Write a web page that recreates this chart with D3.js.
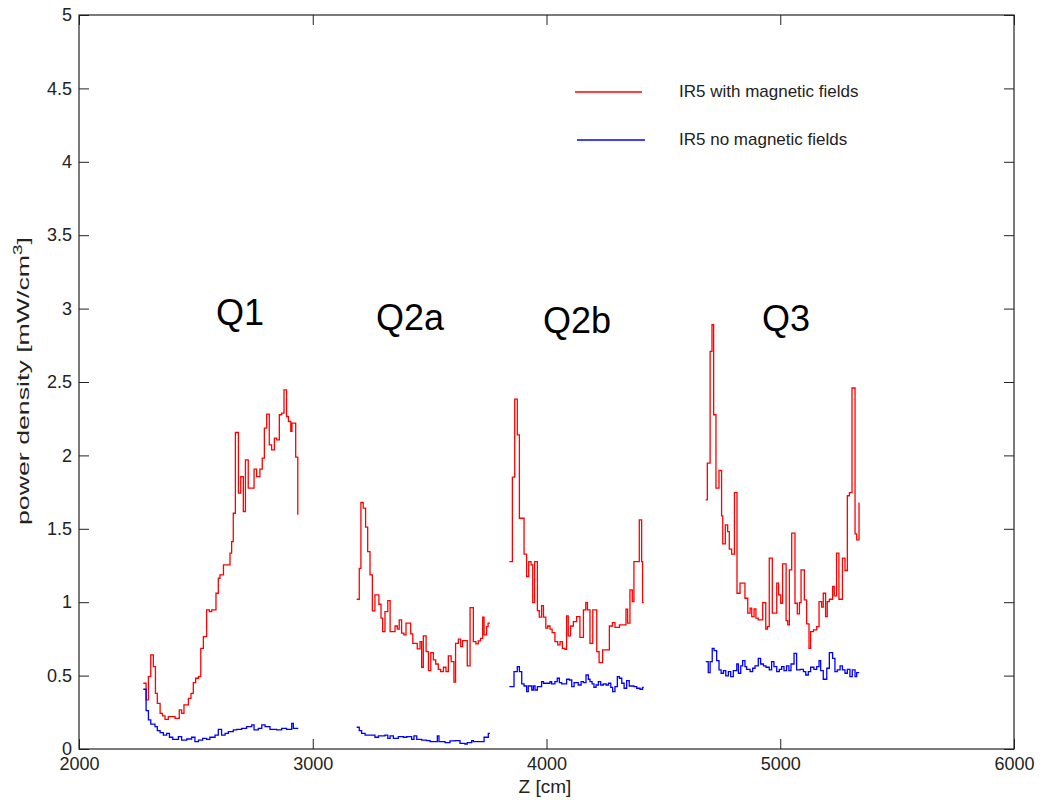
<!DOCTYPE html>
<html><head><meta charset="utf-8">
<script src="https://cdn.jsdelivr.net/npm/d3@7/dist/d3.min.js"></script>
<style>body{margin:0;background:#fff}svg{display:block}text{font-family:"Liberation Sans",Arial,sans-serif}</style>
</head><body>
<svg id="c" width="1049" height="800"></svg>
<script>
// ---------- data ----------
const xTicks = [2000, 3000, 4000, 5000, 6000];
const yTicks = [0, 0.5, 1, 1.5, 2, 2.5, 3, 3.5, 4, 4.5, 5];
const yTickLabels = ["0","0.5","1","1.5","2","2.5","3","3.5","4","4.5","5"];
const seriesNames = ["IR5 with magnetic fields", "IR5 no magnetic fields"];
const magnetNames = ["Q1", "Q2a", "Q2b", "Q3"];

// Q1
const q1RedZ = [2275,2287,2297,2307,2318,2327,2335,2347,2357,2368,2382,2411,2429,2439,2449,2468,2479,2489,2499,2511,2521,2532,2546,2558,2568,2586,2596,2603,2618,2632,2646,2653,2660,2669,2682,2692,2703,2712,2724,2749,2760,2774,2784,2793,2803,2814,2824,2836,2846,2857,2867,2877,2888,2896,2906,2911,2927,2936];
const q1RedV = [0.448,0.334,0.493,0.641,0.561,0.379,0.311,0.243,0.225,0.202,0.220,0.209,0.266,0.243,0.300,0.345,0.379,0.452,0.482,0.493,0.686,0.766,0.948,0.936,0.948,1.061,1.163,1.186,1.254,1.254,1.334,1.413,1.606,2.156,1.743,1.856,1.618,1.970,1.777,1.906,1.856,1.906,1.981,2.186,2.281,2.072,2.038,2.118,2.106,2.277,2.288,2.447,2.265,2.231,2.163,2.220,1.988,1.595];
const q1BlueZ = [2275,2287,2297,2307,2325,2335,2347,2361,2375,2387,2401,2425,2439,2461,2482,2496,2511,2529,2546,2560,2582,2596,2610,2625,2639,2660,2675,2696,2717,2739,2749,2767,2782,2796,2817,2846,2867,2888,2910,2917,2938];
const q1BlueV = [0.407,0.261,0.198,0.170,0.152,0.125,0.111,0.095,0.107,0.080,0.066,0.084,0.061,0.068,0.080,0.050,0.061,0.073,0.066,0.080,0.095,0.134,0.095,0.107,0.118,0.130,0.134,0.141,0.152,0.164,0.130,0.141,0.164,0.152,0.134,0.130,0.141,0.134,0.175,0.141,0.141];

// Q2a
const q2aRedZ = [3188,3199,3206,3216,3226,3235,3245,3255,3266,3283,3292,3299,3309,3321,3331,3352,3362,3370,3380,3390,3399,3419,3428,3447,3459,3466,3473,3485,3495,3505,3516,3526,3537,3547,3559,3570,3580,3592,3604,3611,3623,3633,3641,3661,3673,3687,3698,3708,3718,3727,3733,3744,3750,3758];
const q2aRedV = [1.020,1.231,1.679,1.641,1.511,1.345,1.186,0.941,1.050,0.986,0.891,0.800,0.936,1.011,0.800,0.838,0.816,0.879,0.789,0.777,0.857,0.784,0.720,0.682,0.732,0.557,0.770,0.663,0.534,0.657,0.607,0.579,0.543,0.527,0.557,0.527,0.634,0.595,0.455,0.720,0.748,0.697,0.738,0.566,0.963,0.732,0.716,0.736,0.754,0.898,0.777,0.834,0.857,0.857];
const q2aBlueZ = [3188,3199,3209,3224,3266,3281,3309,3321,3331,3345,3366,3388,3402,3423,3433,3445,3466,3487,3502,3533,3540,3566,3587,3609,3630,3651,3661,3680,3687,3733,3751,3758];
const q2aBlueV = [0.148,0.125,0.107,0.095,0.080,0.089,0.095,0.073,0.089,0.073,0.084,0.080,0.084,0.066,0.089,0.066,0.061,0.057,0.050,0.089,0.050,0.043,0.055,0.057,0.039,0.034,0.043,0.057,0.050,0.080,0.107,0.107];

// Q2b
const q2bRedZ = [3841,3854,3864,3875,3884,3904,3915,3924,3934,3941,3949,3961,3969,3979,3987,3997,4005,4015,4024,4036,4048,4058,4068,4079,4086,4093,4103,4115,4129,4143,4158,4168,4175,4186,4198,4215,4225,4240,4269,4282,4293,4312,4340,4347,4357,4367,4374,4397,4407,4411,4416];
const q2bRedV = [1.277,1.852,2.384,2.140,1.572,1.327,1.175,1.277,1.254,0.997,1.277,0.943,0.898,0.977,0.898,0.823,0.838,0.816,0.793,0.731,0.709,0.731,0.686,0.679,0.907,0.770,0.838,0.868,0.902,0.761,0.948,0.997,0.948,0.720,0.948,0.663,0.588,0.675,0.838,0.861,0.829,0.845,0.952,0.857,1.084,1.004,1.277,1.561,1.277,0.997,0.997];
const q2bBlueZ = [3841,3861,3875,3884,3894,3904,3915,3922,3937,3944,3951,3961,3979,3987,4015,4022,4036,4046,4055,4065,4086,4098,4108,4118,4136,4148,4158,4169,4179,4186,4195,4203,4212,4222,4232,4243,4255,4265,4275,4283,4293,4303,4312,4322,4332,4343,4354,4374,4386,4400,4411,4416];
const q2bBlueV = [0.425,0.527,0.561,0.527,0.443,0.429,0.391,0.429,0.402,0.429,0.402,0.425,0.459,0.448,0.459,0.443,0.459,0.482,0.452,0.443,0.475,0.470,0.425,0.452,0.436,0.459,0.452,0.504,0.475,0.459,0.443,0.420,0.436,0.459,0.436,0.443,0.436,0.448,0.420,0.391,0.425,0.493,0.482,0.448,0.414,0.466,0.429,0.425,0.414,0.407,0.420,0.420];

// Q3
const q3RedZ = [4681,4688,4700,4708,4715,4725,4738,4749,4754,4765,4775,4782,4792,4804,4815,4828,4849,4861,4871,4878,4888,4896,4906,4925,4938,4945,4953,4966,4985,4993,5002,5010,5025,5032,5039,5049,5063,5073,5082,5089,5103,5113,5123,5130,5142,5156,5166,5177,5184,5194,5201,5210,5224,5231,5241,5251,5266,5277,5287,5296,5307,5320,5327,5337];
const q3RedV = [1.697,1.947,2.708,2.890,2.277,1.777,1.897,1.588,1.397,1.527,1.481,1.361,1.327,1.747,1.061,1.130,1.027,0.925,0.959,0.902,0.954,0.891,0.879,0.997,0.816,0.834,1.300,0.925,1.130,1.050,0.993,1.261,0.875,0.845,1.220,1.470,0.993,0.920,0.997,1.220,1.016,0.852,0.686,0.800,0.811,0.834,1.004,0.966,1.061,0.902,1.004,1.020,1.107,1.043,1.334,1.020,1.300,1.216,1.725,1.747,2.459,1.466,1.425,1.679];
const q3BlueZ = [4681,4692,4700,4709,4717,4728,4738,4747,4757,4767,4778,4788,4799,4814,4821,4831,4839,4849,4856,4871,4882,4892,4906,4916,4928,4939,4953,4963,4973,4985,4996,5006,5016,5027,5037,5046,5059,5070,5085,5099,5109,5120,5130,5144,5156,5166,5173,5184,5199,5210,5224,5234,5244,5256,5266,5277,5287,5298,5308,5320,5327,5338];
const q3BlueV = [0.595,0.520,0.595,0.686,0.670,0.602,0.539,0.516,0.534,0.498,0.527,0.493,0.534,0.579,0.516,0.566,0.602,0.561,0.543,0.527,0.550,0.566,0.618,0.579,0.566,0.557,0.539,0.595,0.561,0.527,0.543,0.561,0.534,0.566,0.534,0.579,0.652,0.539,0.543,0.527,0.504,0.527,0.557,0.543,0.561,0.602,0.534,0.475,0.550,0.657,0.618,0.527,0.539,0.566,0.539,0.516,0.543,0.493,0.539,0.493,0.520,0.520];

// ---------- layout ----------
const pL = 79, pR = 1014, pT = 15, pB = 749;
const svg = d3.select("#c");
const x = d3.scaleLinear().domain([2000, 6000]).range([pL, pR]);
const y = d3.scaleLinear().domain([0, 5]).range([pB, pT]);

const stepLine = d3.line().x(d => x(d[0])).y(d => y(d[1])).curve(d3.curveStepAfter);
const zip = (zs, vs) => zs.map((z, i) => [z, vs[i]]);

const redSegs = [zip(q1RedZ, q1RedV), zip(q2aRedZ, q2aRedV), zip(q2bRedZ, q2bRedV), zip(q3RedZ, q3RedV)];
const blueSegs = [zip(q1BlueZ, q1BlueV), zip(q2aBlueZ, q2aBlueV), zip(q2bBlueZ, q2bBlueV), zip(q3BlueZ, q3BlueV)];

const g = svg.append("g");
g.selectAll("path.red").data(redSegs).join("path").attr("class","red")
  .attr("d", stepLine).attr("fill","none").attr("stroke","#ff0000").attr("stroke-width",1.3);
g.selectAll("path.blue").data(blueSegs).join("path").attr("class","blue")
  .attr("d", stepLine).attr("fill","none").attr("stroke","#0000ff").attr("stroke-width",1.3);

// axes (MATLAB style, inward ticks, box)
const axisColor = "#222";
const tk = 10;
const axL = d3.axisLeft(y).tickValues(yTicks).tickSize(-tk).tickPadding(7).tickFormat((d,i) => yTickLabels[i]);
const axR = d3.axisRight(y).tickValues(yTicks).tickSize(-tk).tickFormat("");
const axB = d3.axisBottom(x).tickValues(xTicks).tickSize(-tk).tickPadding(8).tickFormat(d3.format("d"));
const axT = d3.axisTop(x).tickValues(xTicks).tickSize(-tk).tickFormat("");

function styleAxis(sel){
  sel.select(".domain").remove();
  sel.selectAll(".tick line").attr("stroke", axisColor).attr("stroke-width",1);
  sel.selectAll(".tick text").attr("fill","#222").style("font-size","18px").style("font-family",'"Liberation Sans",Arial,sans-serif');
}
svg.append("g").attr("transform",`translate(${pL},0)`).call(axL).call(styleAxis);
svg.append("g").attr("transform",`translate(${pR},0)`).call(axR).call(styleAxis);
svg.append("g").attr("transform",`translate(0,${pB})`).call(axB).call(styleAxis);
svg.append("g").attr("transform",`translate(0,${pT})`).call(axT).call(styleAxis);
svg.append("rect").attr("x",pL).attr("y",pT).attr("width",pR-pL).attr("height",pB-pT)
  .attr("fill","none").attr("stroke",axisColor).attr("stroke-width",1.2);

// axis titles
svg.append("text").attr("x", 545).attr("y", 793).attr("text-anchor","middle")
  .style("font-size","19px").attr("fill","#222").text("Z [cm]");
const yt = svg.append("text").attr("transform", `translate(29,381) rotate(-90)`).attr("text-anchor","middle")
  .attr("textLength", 288).attr("lengthAdjust","spacingAndGlyphs")
  .style("font-size","17px").attr("fill","#222");
yt.append("tspan").text("power density [mW/cm");
yt.append("tspan").attr("dy",-7).style("font-size","12px").text("3");
yt.append("tspan").attr("dy",7).text("]");

// magnet labels
const magnetPos = [[240, 325], [410, 330], [577, 333], [786, 331]];
svg.selectAll("text.mag").data(magnetNames).join("text").attr("class","mag")
  .attr("x",(d,i)=>magnetPos[i][0]).attr("y",(d,i)=>magnetPos[i][1]).attr("text-anchor","middle")
  .style("font-size","36px").attr("fill","#000").text(d=>d);

// legend
const legColors = ["#ff0000", "#0000ff"];
const legY = [92, 140];
const lg = svg.append("g");
lg.selectAll("line").data(seriesNames).join("line")
  .attr("x1",(d,i)=> i ? 577 : 575).attr("x2",(d,i)=> i ? 645 : 642)
  .attr("y1",(d,i)=>legY[i]).attr("y2",(d,i)=>legY[i])
  .attr("stroke",(d,i)=>legColors[i]).attr("stroke-width",1.3);
lg.selectAll("text").data(seriesNames).join("text")
  .attr("x",679).attr("y",(d,i)=>legY[i]+5)
  .style("font-size","17px").attr("fill","#222").text(d=>d);
</script>
</body></html>
